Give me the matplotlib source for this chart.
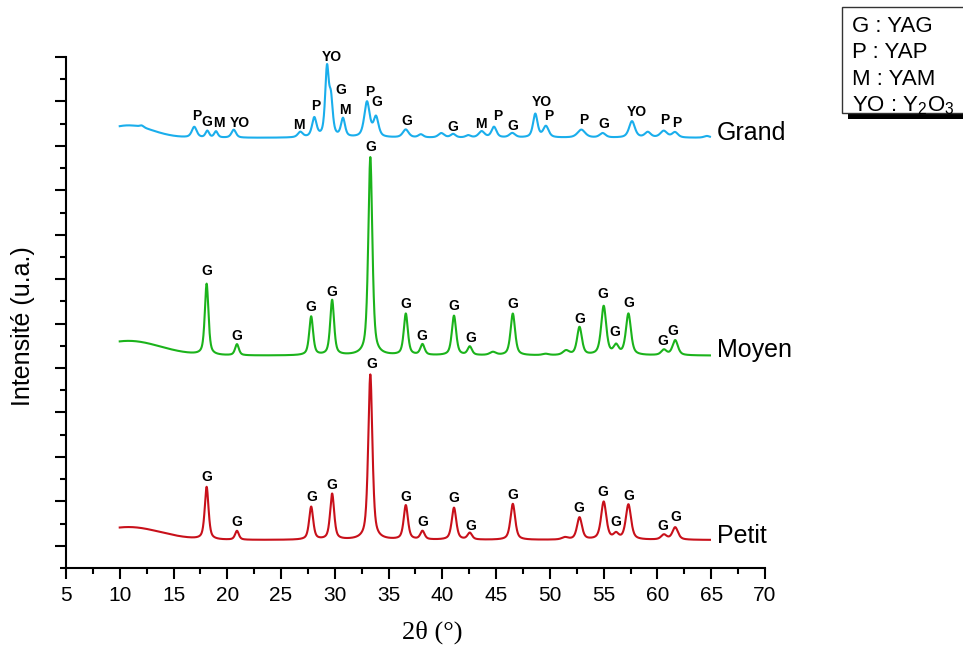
import numpy as np
import matplotlib.pyplot as plt
from matplotlib.patches import Rectangle
from matplotlib.ticker import MultipleLocator

plt.rcParams['font.family'] = ['Liberation Sans', 'DejaVu Sans']
plt.rcParams['mathtext.fontset'] = 'custom'
plt.rcParams['mathtext.rm'] = 'Liberation Sans'
plt.rcParams['mathtext.it'] = 'Liberation Sans:italic'

# scan range (2theta, degrees)
two_theta = np.arange(10.0, 64.9, 0.02)

# --- Petit (red) : background, low-angle hump (center, height, sigma), peaks
petit_bg = 13
petit_hump = (10.8, 29, 3.0)
petit_pos = [18.08, 20.9, 27.8, 29.75, 33.3, 36.6, 38.15, 41.08, 42.55, 46.55,
             51.4, 52.75, 55.0, 56.15, 57.3, 60.6, 61.65]
petit_height = [118, 20, 74, 103, 372, 77, 19, 72, 15, 81,
                5, 50, 85, 12, 79, 11, 28]
petit_fwhm = [0.42, 0.42, 0.45, 0.45, 0.46, 0.47, 0.47, 0.5, 0.5, 0.52,
              0.7, 0.55, 0.58, 0.55, 0.58, 0.62, 0.62]
petit_lab_x = [18.14, 20.93, 27.85, 29.76, 33.45, 36.62, 38.17, 41.08, 42.63, 46.54,
               52.73, 54.96, 56.14, 57.29, 60.49, 61.70]
petit_lab_y = [155, 54, 109, 137, 409, 109, 54, 108, 45, 114,
               86, 120, 54, 113, 45, 65]

# --- Moyen (green)
moyen_bg = 428
moyen_hump = (10.8, 33, 3.0)
moyen_pos = [18.08, 20.9, 27.8, 29.75, 33.3, 36.6, 38.15, 41.08, 42.55, 44.7,
             46.55, 49.6, 51.5, 52.75, 55.0, 56.15, 57.3, 60.6, 61.65]
moyen_height = [160, 25, 87, 124, 446, 93, 24, 89, 19, 7,
                94, 3, 10, 63, 110, 20, 93, 12, 34]
moyen_fwhm = [0.4, 0.42, 0.43, 0.43, 0.45, 0.45, 0.47, 0.48, 0.48, 0.7,
              0.5, 0.7, 0.7, 0.53, 0.56, 0.55, 0.56, 0.6, 0.6]
moyen_lab_x = [18.14, 20.93, 27.78, 29.76, 33.36, 36.59, 38.08, 41.08, 42.63, 46.54,
               52.80, 54.96, 56.05, 57.38, 60.54, 61.47]
moyen_lab_y = [618, 473, 538, 572, 897, 543, 473, 540, 467, 545,
               510, 567, 480, 547, 461, 483]

# --- Grand (blue)
grand_bg = 918
grand_hump = (10.8, 28, 2.2)
grand_pos = [12.04, 16.93, 18.14, 18.95, 20.6, 26.79, 28.09, 29.27, 29.64, 30.76,
             32.99, 33.83, 36.59, 38.0, 39.9, 41.0, 42.4, 43.65, 44.8, 46.5,
             48.64, 49.63, 52.92, 54.9, 57.63, 59.1, 60.58, 61.63, 64.6]
grand_height = [4, 24, 15, 14, 18, 12, 43, 150, 78, 41,
                79, 44, 18, 7, 10, 8, 5, 14, 24, 10,
                53, 25, 18, 10, 37, 12, 15, 12, 4]
grand_fwhm = [0.45, 0.55, 0.4, 0.4, 0.5, 0.55, 0.5, 0.4, 0.4, 0.45,
              0.6, 0.55, 0.65, 0.55, 0.65, 0.55, 0.55, 0.65, 0.55, 0.65,
              0.5, 0.6, 0.85, 0.65, 0.65, 0.65, 0.75, 0.65, 0.65]
grand_labels = ['P', 'G', 'M', 'YO', 'M', 'P', 'YO', 'G', 'M', 'P', 'G', 'G',
                'G', 'M', 'P', 'G', 'YO', 'P', 'P', 'G', 'YO', 'P', 'P']
grand_lab_x = [17.15, 18.14, 19.26, 21.18, 26.67, 28.18, 29.74, 30.54, 30.94, 33.27,
               33.95, 36.68, 40.96, 43.59, 45.11, 46.59, 49.23, 49.91, 53.10, 55.03,
               58.12, 60.67, 61.79]
grand_lab_y = [968, 954, 952, 952, 946, 990, 1099, 1026, 981, 1022,
               999, 956, 943, 949, 967, 945, 998, 968, 958, 949,
               977, 958, 951]


def profile(x, bg, hump, pos, height, fwhm, eta=0.6):
    y = np.full_like(x, bg, dtype=float)
    c, h, s = hump
    y += h * np.exp(-(x - c) ** 2 / (2 * s ** 2))
    for p, a, w in zip(pos, height, fwhm):
        d = ((x - p) / w) ** 2
        y += a * (eta / (1 + 4 * d) + (1 - eta) * np.exp(-4 * np.log(2) * d))
    return y


fig = plt.figure(figsize=(9.63, 6.53), dpi=100)
ax = fig.add_axes([0.0685, 0.1302, 0.7259, 0.7825])

series = [
    ('Petit', '#C8101A', profile(two_theta, petit_bg, petit_hump, petit_pos, petit_height, petit_fwhm),
     ['G'] * len(petit_lab_x), petit_lab_x, petit_lab_y, 7),
    ('Moyen', '#1BB31B', profile(two_theta, moyen_bg, moyen_hump, moyen_pos, moyen_height, moyen_fwhm),
     ['G'] * len(moyen_lab_x), moyen_lab_x, moyen_lab_y, 425),
    ('Grand', '#1AAEEC', profile(two_theta, grand_bg, grand_hump, grand_pos, grand_height, grand_fwhm),
     grand_labels, grand_lab_x, grand_lab_y, 913),
]

for name, color, y, labs, lx, ly, name_y in series:
    ax.plot(two_theta, y, color=color, lw=1.5)
    for t, px, py in zip(labs, lx, ly):
        ax.text(px, py, t, fontsize=10, fontweight='bold', ha='center', va='center', clip_on=False)
    ax.text(65.5, name_y, name, fontsize=18, ha='left', va='baseline', clip_on=False)

ax.set_xlim(5, 70)
ax.set_ylim(-50, 1100)
ax.xaxis.set_major_locator(MultipleLocator(5))
ax.xaxis.set_minor_locator(MultipleLocator(2.5))
ax.yaxis.set_major_locator(MultipleLocator(100))
ax.yaxis.set_minor_locator(MultipleLocator(50))
ax.set_yticklabels([])
ax.tick_params(which='major', direction='out', length=8, width=1.5, labelsize=15, pad=5)
ax.tick_params(which='minor', direction='out', length=4, width=1.5)
for s in ['top', 'right']:
    ax.spines[s].set_visible(False)
for s in ['left', 'bottom']:
    ax.spines[s].set_linewidth(1.5)

ax.set_xlabel('2θ (°)', fontsize=19, family='Liberation Serif')
ax.xaxis.set_label_coords(0.524, -0.125)
ax.xaxis.label.set_va('center')
ax.set_ylabel('Intensité (u.a.)', fontsize=18)
ax.yaxis.set_label_coords(-0.0615, 0.4736)
ax.yaxis.label.set_va('center')

# phase key box (cut by the right edge)
fig.patches.append(Rectangle((848 / 963, 1 - 119 / 653), 0.3, 0.16,
                             transform=fig.transFigure, facecolor='black', edgecolor='none'))
fig.patches.append(Rectangle((842 / 963, 1 - 113 / 653), 0.3, 106 / 653,
                             transform=fig.transFigure, facecolor='white', edgecolor='#333333', lw=1))
key = ['G : YAG', 'P : YAP', 'M : YAM', 'YO : Y$_2$O$_3$']
for i, t in enumerate(key):
    fig.text(852 / 963, 1 - (31.7 + 26.7 * i) / 653, t, fontsize=16, va='baseline', ha='left')

fig.savefig('out.png', dpi=100)
